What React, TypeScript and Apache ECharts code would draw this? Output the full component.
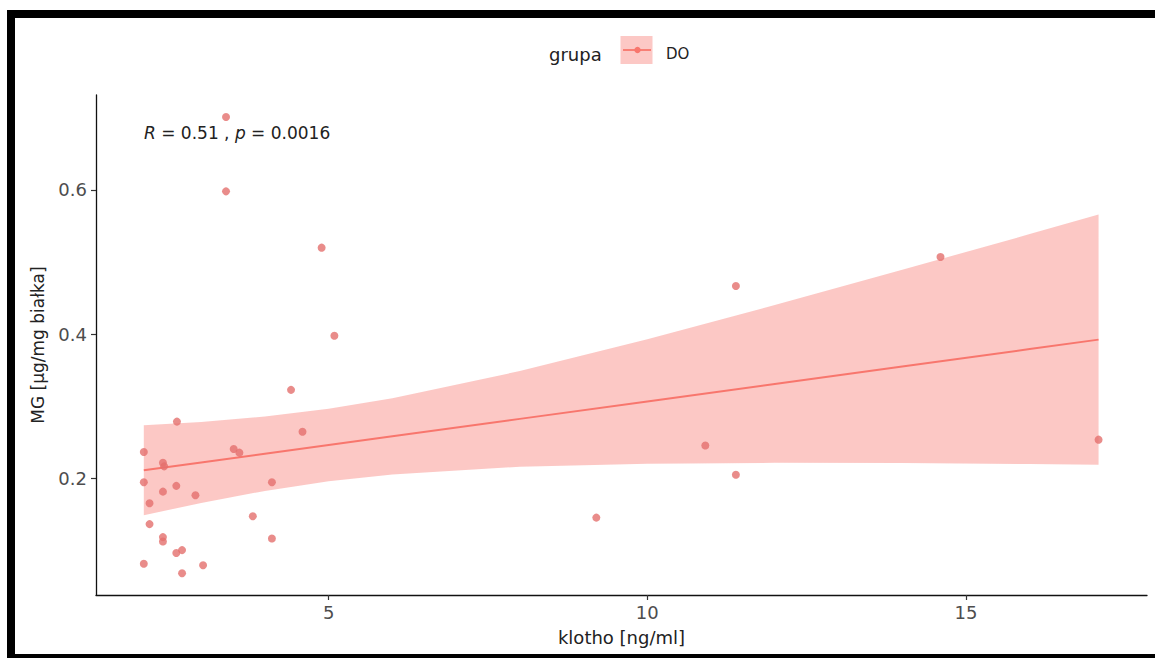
import React, { useEffect, useRef } from "react";
import * as echarts from "echarts";

// scatter data: klotho [ng/ml] vs MG [µg/mg białka]
const klotho = [
  2.62, 2.10, 3.51, 3.60, 4.59, 2.40, 2.42, 2.10, 2.40, 2.61, 2.91, 4.11,
  2.19, 2.19, 3.81, 2.40, 2.40, 4.11, 2.61, 2.70, 2.10, 3.03, 2.70, 3.39,
  3.39, 4.89, 5.09, 4.41, 9.20, 10.91, 11.39, 11.39, 14.60, 17.08,
];
const mg = [
  0.279, 0.237, 0.241, 0.236, 0.265, 0.222, 0.217, 0.195, 0.182, 0.190, 0.177, 0.195,
  0.166, 0.137, 0.148, 0.119, 0.113, 0.117, 0.097, 0.101, 0.082, 0.080, 0.069, 0.701,
  0.598, 0.520, 0.398, 0.323, 0.146, 0.246, 0.2055, 0.467, 0.507, 0.254,
];

// fitted regression line and its confidence band
const fitX = [2.1, 3, 4, 5, 6, 8, 10, 12, 14, 16, 17.08];
const fitY = [0.2115, 0.2224, 0.2345, 0.2466, 0.2587, 0.2828, 0.307, 0.3312, 0.3554, 0.3795, 0.3926];
const lowerY = [0.1492, 0.1664, 0.183, 0.1963, 0.2059, 0.2166, 0.2208, 0.2219, 0.2215, 0.2202, 0.2193];
const upperY = [0.2738, 0.2784, 0.286, 0.2969, 0.3115, 0.349, 0.3932, 0.4405, 0.4893, 0.5388, 0.5659];

const xTicks = [5, 10, 15];
const yTicks = [0.2, 0.4, 0.6];

const FONT = "DejaVu Sans";
const RED = "#F8766D";
const BAND = "rgba(248,118,109,0.4)";

export default function App() {
  const ref = useRef<HTMLDivElement>(null);
  useEffect(() => {
    if (!ref.current) return;
    const chart = echarts.init(ref.current, null, { renderer: "svg" });
    const points = klotho.map((x, i) => [x, mg[i]]);
    const line = fitX.map((x, i) => [x, fitY[i]]);
    chart.setOption({
      animation: false,
      backgroundColor: "#ffffff",
      grid: { left: 96, right: 8, top: 95, bottom: 64, containLabel: false, outerBoundsMode: "none" },
      xAxis: {
        type: "value",
        min: 1.35,
        max: 17.84,
        splitLine: { show: false },
        axisLine: { show: true, onZero: false, lineStyle: { color: "#111", width: 1.3 } },
        axisTick: { show: true, customValues: xTicks, length: 5, lineStyle: { color: "#333", width: 1.2 } },
        axisLabel: { customValues: xTicks, color: "#4d4d4d", fontSize: 18, fontFamily: FONT, margin: 8 },
        name: "klotho [ng/ml]",
        nameLocation: "middle",
        nameGap: 33,
        nameTextStyle: { color: "#222", fontSize: 18, fontFamily: FONT },
      },
      yAxis: {
        type: "value",
        min: 0.0388,
        max: 0.7315,
        splitLine: { show: false },
        axisLine: { show: true, onZero: false, lineStyle: { color: "#111", width: 1.3 } },
        axisTick: { show: true, customValues: yTicks, length: 5, lineStyle: { color: "#333", width: 1.2 } },
        axisLabel: {
          customValues: yTicks,
          color: "#4d4d4d",
          fontSize: 18,
          fontFamily: FONT,
          margin: 9,
          formatter: (v: number) => v.toFixed(1),
        },
        name: "MG [µg/mg białka]",
        nameLocation: "middle",
        nameRotate: 90,
        nameGap: 50,
        nameTextStyle: { color: "#222", fontSize: 17, fontFamily: FONT },
      },
      series: [
        {
          type: "custom",
          silent: true,
          z: 1,
          data: [[fitX[0], fitY[0]]],
          renderItem: (params: any, api: any) => {
            if (params.dataIndex !== 0) return null;
            const pts: number[][] = [];
            for (let i = 0; i < fitX.length; i++) pts.push(api.coord([fitX[i], upperY[i]]));
            for (let i = fitX.length - 1; i >= 0; i--) pts.push(api.coord([fitX[i], lowerY[i]]));
            return { type: "polygon", shape: { points: pts }, style: { fill: BAND } };
          },
        },
        {
          type: "line",
          data: line,
          showSymbol: false,
          silent: true,
          z: 2,
          lineStyle: { color: RED, width: 2 },
        },
        {
          type: "scatter",
          data: points,
          symbolSize: 8,
          z: 3,
          itemStyle: { color: "#E36F6D" },
        },
      ],
      graphic: [
        { type: "rect", shape: { x: 7, y: 10, width: 1148, height: 8 }, style: { fill: "#000" } },
        { type: "rect", shape: { x: 7, y: 10, width: 8, height: 648 }, style: { fill: "#000" } },
        { type: "rect", shape: { x: 7, y: 654, width: 1148, height: 4 }, style: { fill: "#000" } },
        {
          type: "text",
          x: 144,
          y: 133,
          style: {
            text: "{i|R} = 0.51 , {i|p} = 0.0016",
            fontSize: 17,
            fontFamily: FONT,
            fill: "#222",
            verticalAlign: "middle",
            rich: { i: { fontStyle: "italic", fontSize: 17, fontFamily: FONT, fill: "#222" } },
          },
        },
        {
          type: "text",
          x: 549,
          y: 54,
          style: { text: "grupa", fontSize: 18, fontFamily: FONT, fill: "#222", verticalAlign: "middle" },
        },
        { type: "rect", shape: { x: 620.5, y: 36, width: 32, height: 28 }, style: { fill: BAND } },
        { type: "line", shape: { x1: 623, y1: 50, x2: 651, y2: 50 }, style: { stroke: RED, lineWidth: 1.8 } },
        { type: "circle", shape: { cx: 637.5, cy: 50, r: 3.2 }, style: { fill: RED } },
        {
          type: "text",
          x: 666,
          y: 54,
          style: { text: "DO", fontSize: 15, fontFamily: FONT, fill: "#222", verticalAlign: "middle" },
        },
      ],
    });
    return () => chart.dispose();
  }, []);
  return (
    <div
      ref={ref}
      style={{ position: "absolute", left: 0, top: 0, width: 1155, height: 659, background: "#fff" }}
    />
  );
}
